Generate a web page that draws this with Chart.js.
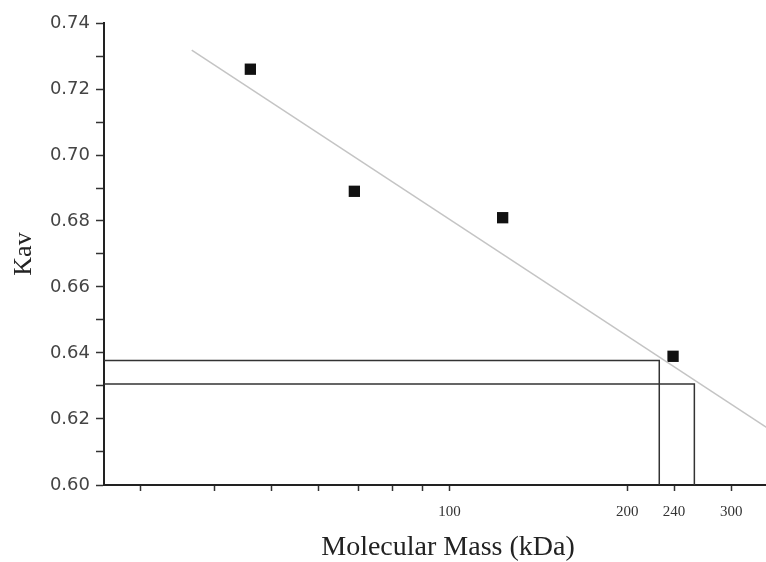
<!DOCTYPE html>
<html>
<head>
<meta charset="utf-8">
<script src="https://cdn.jsdelivr.net/npm/chart.js@4/dist/chart.umd.min.js"></script>
<style>
  html, body { margin: 0; padding: 0; background: #fff; overflow: hidden; }
  /* the plot runs on past the right edge of the picture, so the canvas is wider than the frame */
  #wrap { width: 766px; height: 562px; overflow: hidden; }
  canvas { display: block; }
</style>
</head>
<body>
<div id="wrap"><canvas id="kavChart" width="800" height="562"></canvas></div>
<script>
// Calibration standards (molecular mass in kDa vs Kav)
const massKDa = [46, 69, 123, 239];
const kav = [0.726, 0.689, 0.681, 0.639];

// Fitted line at its two ends
const fitMass = [36.6, 380];
const fitKav = [0.7318, 0.6124];

// Read-off lines for the two unknowns
const unknownMass = [226.5, 259.7];
const unknownKav = [0.6377, 0.6306];

// Axis ticks
const xTickValues = [30, 40, 50, 60, 70, 80, 90, 100, 200, 240, 300];
const xTickLabels = ["", "", "", "", "", "", "", "100", "200", "240", "300"];
const xMin = 26, xMax = 380;
const yMin = 0.60, yMax = 0.74;

function toPoints(xs, ys) {
    return xs.map((x, i) => ({ x: x, y: ys[i] }));
}

// each read-off line goes from the y axis across to the fit line, then down to the x axis
function readOffLine(m, k) {
    return [{ x: xMin, y: k }, { x: m, y: k }, { x: m, y: yMin }];
}

const ctx = document.getElementById("kavChart").getContext("2d");
new Chart(ctx, {
    type: "scatter",
    data: {
        datasets: [
            {
                label: "fit",
                data: toPoints(fitMass, fitKav),
                showLine: true,
                borderColor: "#c4c4c4",
                borderWidth: 1.5,
                pointRadius: 0
            },
            {
                label: "unknown 1",
                data: readOffLine(unknownMass[0], unknownKav[0]),
                showLine: true,
                borderColor: "#333",
                borderWidth: 1.5,
                pointRadius: 0
            },
            {
                label: "unknown 2",
                data: readOffLine(unknownMass[1], unknownKav[1]),
                showLine: true,
                borderColor: "#333",
                borderWidth: 1.5,
                pointRadius: 0
            },
            {
                label: "standards",
                data: toPoints(massKDa, kav),
                pointStyle: "rect",
                pointRadius: 8,
                backgroundColor: "#111",
                borderColor: "#111",
                borderWidth: 0
            }
        ]
    },
    options: {
        responsive: false,
        animation: false,
        layout: { padding: { top: 23, right: 0, bottom: 0, left: 0 } },
        plugins: {
            legend: { display: false },
            tooltip: { enabled: false }
        },
        scales: {
            x: {
                type: "logarithmic",
                min: xMin,
                max: xMax,
                afterBuildTicks: scale => {
                    scale.ticks = xTickValues.map(v => ({ value: v }));
                },
                afterFit: scale => { scale.height = 77; },
                border: { display: true, color: "#222", width: 2 },
                grid: {
                    drawOnChartArea: false,
                    drawTicks: true,
                    tickLength: 6,
                    tickColor: "#333",
                    tickWidth: 1.5
                },
                ticks: {
                    autoSkip: false,
                    maxRotation: 0,
                    padding: 12,
                    color: "#333",
                    font: { family: "'Liberation Serif', 'Times New Roman', serif", size: 15 },
                    callback: (value, index) => xTickLabels[index]
                },
                title: {
                    display: true,
                    text: "Molecular Mass (kDa)",
                    color: "#222",
                    padding: { top: 0, bottom: 0 },
                    font: { family: "'Liberation Serif', 'Times New Roman', serif", size: 28, lineHeight: 1 }
                }
            },
            y: {
                min: yMin,
                max: yMax,
                afterFit: scale => { scale.width = 104; },
                border: { display: true, color: "#222", width: 2 },
                grid: {
                    drawOnChartArea: false,
                    drawTicks: true,
                    tickLength: 8,
                    tickColor: "#333",
                    tickWidth: 1.5
                },
                ticks: {
                    stepSize: 0.01,
                    autoSkip: false,
                    padding: 6,
                    color: "#444",
                    font: { family: "'DejaVu Sans', sans-serif", size: 18 },
                    callback: value => (Math.round(value * 100) % 2 === 0 ? value.toFixed(2) : "")
                },
                title: {
                    display: true,
                    text: "Kav",
                    color: "#222",
                    padding: { top: 11, bottom: 0 },
                    font: { family: "'Liberation Serif', 'Times New Roman', serif", size: 26, lineHeight: 1 }
                }
            }
        }
    }
});
</script>
</body>
</html>
